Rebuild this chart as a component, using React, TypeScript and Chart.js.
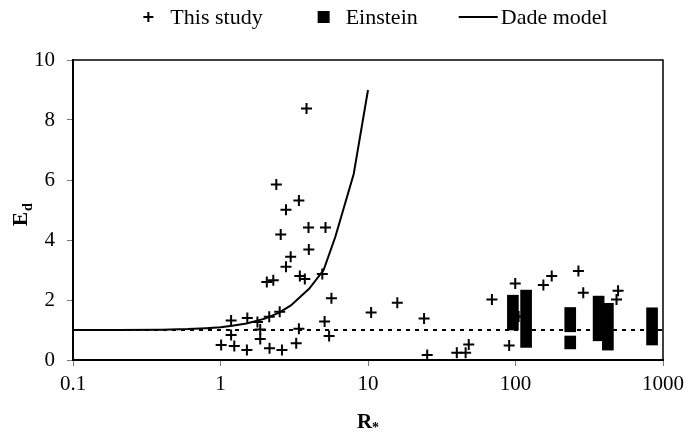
import React, { useEffect, useRef } from "react";
import { Chart, registerables } from "chart.js";

Chart.register(...registerables);

// Series labels
const STUDY_LABEL = "This study";
const EINSTEIN_LABEL = "Einstein";
const DADE_LABEL = "Dade model";

// This study: R* and E_d
const studyR = [
  3.83, 2.39, 3.4, 2.78, 3.95, 5.15, 2.56, 3.97, 2.99, 2.78,
  2.06, 2.28, 3.45, 3.73, 4.9, 5.65, 10.5, 1.18, 1.52, 1.78,
  2.14, 2.52, 5.08, 3.4, 1.18, 1.86, 1.86, 1.01, 1.24, 1.51,
  2.15, 2.61, 3.26, 5.45, 15.8, 24.0, 25.2, 40.0, 45.9, 48.2,
  69.2, 99.6, 90.6, 154.5, 176, 267, 288, 496, 484, 105,
];
const studyEd = [
  8.38, 5.85, 5.32, 5.01, 4.42, 4.42, 4.18, 3.68, 3.44, 3.11,
  2.6, 2.66, 2.8, 2.7, 2.87, 2.06, 1.58, 1.32, 1.4, 1.27,
  1.44, 1.61, 1.28, 1.04, 0.83, 1.02, 0.7, 0.5, 0.47, 0.33,
  0.39, 0.33, 0.56, 0.8, 1.91, 1.38, 0.17, 0.24, 0.24, 0.52,
  2.02, 2.55, 0.48, 2.5, 2.8, 2.97, 2.24, 2.31, 2.02, 1.45,
];

// Einstein: ranges of E_d at each R*
const einsteinR = [96, 118, 235, 235, 366, 423, 843];
const einsteinLow = [1.0, 0.42, 0.37, 0.94, 0.64, 0.33, 0.5];
const einsteinHigh = [2.16, 2.33, 0.8, 1.75, 2.13, 1.89, 1.74];

// Dade model curve
const dadeR = [0.1, 0.2, 0.4, 0.6, 0.8, 1, 1.2, 1.5, 2, 2.5, 3, 4, 5, 6, 8, 10];
const dadeEd = [1.0, 1.0, 1.01, 1.03, 1.06, 1.09, 1.14, 1.22, 1.38, 1.58, 1.82, 2.38, 3.0, 4.1, 6.2, 9.0];

// Reference level E_d = 1
const refR = [0.1, 1000];
const refEd = [1, 1];

// Axes
const xTicks = [0.1, 1, 10, 100, 1000];
const yMin = 0;
const yMax = 10;
const yStep = 2;

const SERIF = '"Liberation Serif", "Times New Roman", serif';

const keyEntries = [
  { label: STUDY_LABEL, kind: "cross" },
  { label: EINSTEIN_LABEL, kind: "square" },
  { label: DADE_LABEL, kind: "line" },
];

// Draws the series key above the plot
const seriesKey = {
  id: "seriesKey",
  afterDraw(chart: any) {
    const { ctx, chartArea } = chart;
    ctx.save();
    ctx.font = `22px ${SERIF}`;
    ctx.fillStyle = "#000";
    ctx.strokeStyle = "#000";
    const markerW = 40;
    const markerGap = 2;
    const entryGap = 41;
    const widths = keyEntries.map((e) => markerW + markerGap + ctx.measureText(e.label).width);
    const total = widths.reduce((a, b) => a + b, 0) + entryGap * (keyEntries.length - 1);
    let x = (chartArea.left + chartArea.right) / 2 - total / 2;
    const yMark = 17;
    const yText = 24;
    keyEntries.forEach((e, i) => {
      const cx = x + markerW / 2;
      if (e.kind === "cross") {
        ctx.lineWidth = 2;
        ctx.beginPath();
        ctx.moveTo(cx - 5, yMark);
        ctx.lineTo(cx + 5, yMark);
        ctx.moveTo(cx, yMark - 5);
        ctx.lineTo(cx, yMark + 5);
        ctx.stroke();
      } else if (e.kind === "square") {
        ctx.fillRect(cx - 6, yMark - 6, 12, 12);
      } else {
        ctx.lineWidth = 2;
        ctx.beginPath();
        ctx.moveTo(x, yMark);
        ctx.lineTo(x + markerW - 1, yMark);
        ctx.stroke();
      }
      ctx.textBaseline = "alphabetic";
      ctx.textAlign = "left";
      ctx.fillText(e.label, x + markerW + markerGap, yText);
      x += widths[i] + entryGap;
    });
    ctx.restore();
  },
};

// Axis titles with subscripts, plus the top and right frame of the plot
const axisDecor = {
  id: "axisDecor",
  afterDraw(chart: any) {
    const { ctx, chartArea } = chart;
    ctx.save();
    ctx.strokeStyle = "#000";
    ctx.lineWidth = 1.5;
    ctx.beginPath();
    ctx.moveTo(chartArea.left, chartArea.top);
    ctx.lineTo(chartArea.right, chartArea.top);
    ctx.lineTo(chartArea.right, chartArea.bottom);
    ctx.stroke();

    ctx.fillStyle = "#000";
    ctx.textBaseline = "alphabetic";
    ctx.textAlign = "left";

    // x title: R*
    const midX = (chartArea.left + chartArea.right) / 2;
    ctx.font = `bold 21px ${SERIF}`;
    const rW = ctx.measureText("R").width;
    ctx.font = `bold 14px ${SERIF}`;
    const sW = ctx.measureText("*").width;
    const startX = midX - (rW + sW) / 2;
    ctx.font = `bold 21px ${SERIF}`;
    ctx.fillText("R", startX, 428);
    ctx.font = `bold 14px ${SERIF}`;
    ctx.fillText("*", startX + rW, 432);

    // y title: E_d (rotated)
    ctx.translate(27, 226);
    ctx.rotate(-Math.PI / 2);
    ctx.font = `bold 21px ${SERIF}`;
    const eW = ctx.measureText("E").width;
    ctx.fillText("E", 0, 0);
    ctx.font = `bold 14px ${SERIF}`;
    ctx.fillText("d", eW + 1, 5);
    ctx.restore();
  },
};

export default function App() {
  const canvasRef = useRef<HTMLCanvasElement | null>(null);

  useEffect(() => {
    if (!canvasRef.current) return;

    const tickFont = { family: SERIF, size: 21 };

    const chart = new Chart(canvasRef.current, {
      type: "scatter",
      data: {
        datasets: [
          {
            type: "bar",
            label: EINSTEIN_LABEL,
            data: einsteinR.map((r, i) => ({ x: r, y: [einsteinLow[i], einsteinHigh[i]] })) as any,
            backgroundColor: "#000",
            borderWidth: 0,
            barThickness: 11,
          } as any,
          {
            type: "scatter",
            label: STUDY_LABEL,
            data: studyR.map((r, i) => ({ x: r, y: studyEd[i] })),
            pointStyle: "cross",
            pointRadius: 5.5,
            pointBorderWidth: 2,
            borderColor: "#000",
            backgroundColor: "#000",
          },
          {
            type: "line",
            label: DADE_LABEL,
            data: dadeR.map((r, i) => ({ x: r, y: dadeEd[i] })),
            borderColor: "#000",
            borderWidth: 2,
            pointRadius: 0,
            tension: 0,
            fill: false,
          },
          {
            type: "line",
            label: "E_d = 1",
            data: refR.map((r, i) => ({ x: r, y: refEd[i] })),
            borderColor: "#000",
            borderWidth: 2,
            borderDash: [4, 5],
            pointRadius: 0,
            fill: false,
          },
        ],
      },
      options: {
        animation: false,
        responsive: false,
        devicePixelRatio: 1,
        layout: { padding: { top: 60, right: 37, left: 0, bottom: 0 } },
        plugins: {
          legend: { display: false },
          tooltip: { enabled: false },
          title: { display: false },
        },
        scales: {
          x: {
            type: "logarithmic",
            min: 0.1,
            max: 1000,
            offset: false,
            afterBuildTicks: (scale: any) => {
              scale.ticks = xTicks.map((v) => ({ value: v }));
            },
            afterFit: (scale: any) => {
              scale.height = 77;
            },
            ticks: {
              autoSkip: false,
              maxRotation: 0,
              padding: 6,
              color: "#000",
              font: tickFont,
              callback: (v: any) => String(v),
            },
            grid: {
              display: true,
              offset: false,
              drawOnChartArea: false,
              drawTicks: true,
              tickLength: 6,
              color: "#777",
              lineWidth: 1,
            },
            border: { display: true, color: "#000", width: 2 },
          },
          y: {
            type: "linear",
            min: yMin,
            max: yMax,
            afterFit: (scale: any) => {
              scale.width = 73;
            },
            ticks: {
              stepSize: yStep,
              padding: 12,
              color: "#000",
              font: tickFont,
            },
            grid: {
              display: true,
              offset: false,
              drawOnChartArea: false,
              drawTicks: true,
              tickLength: 6,
              color: "#777",
              lineWidth: 1,
            },
            border: { display: true, color: "#000", width: 2 },
          },
        },
      },
      plugins: [seriesKey, axisDecor],
    });

    return () => chart.destroy();
  }, []);

  return (
    <div style={{ position: "fixed", left: 0, top: 0, width: 700, height: 437, background: "#fff" }}>
      <canvas ref={canvasRef} width={700} height={437} />
    </div>
  );
}
